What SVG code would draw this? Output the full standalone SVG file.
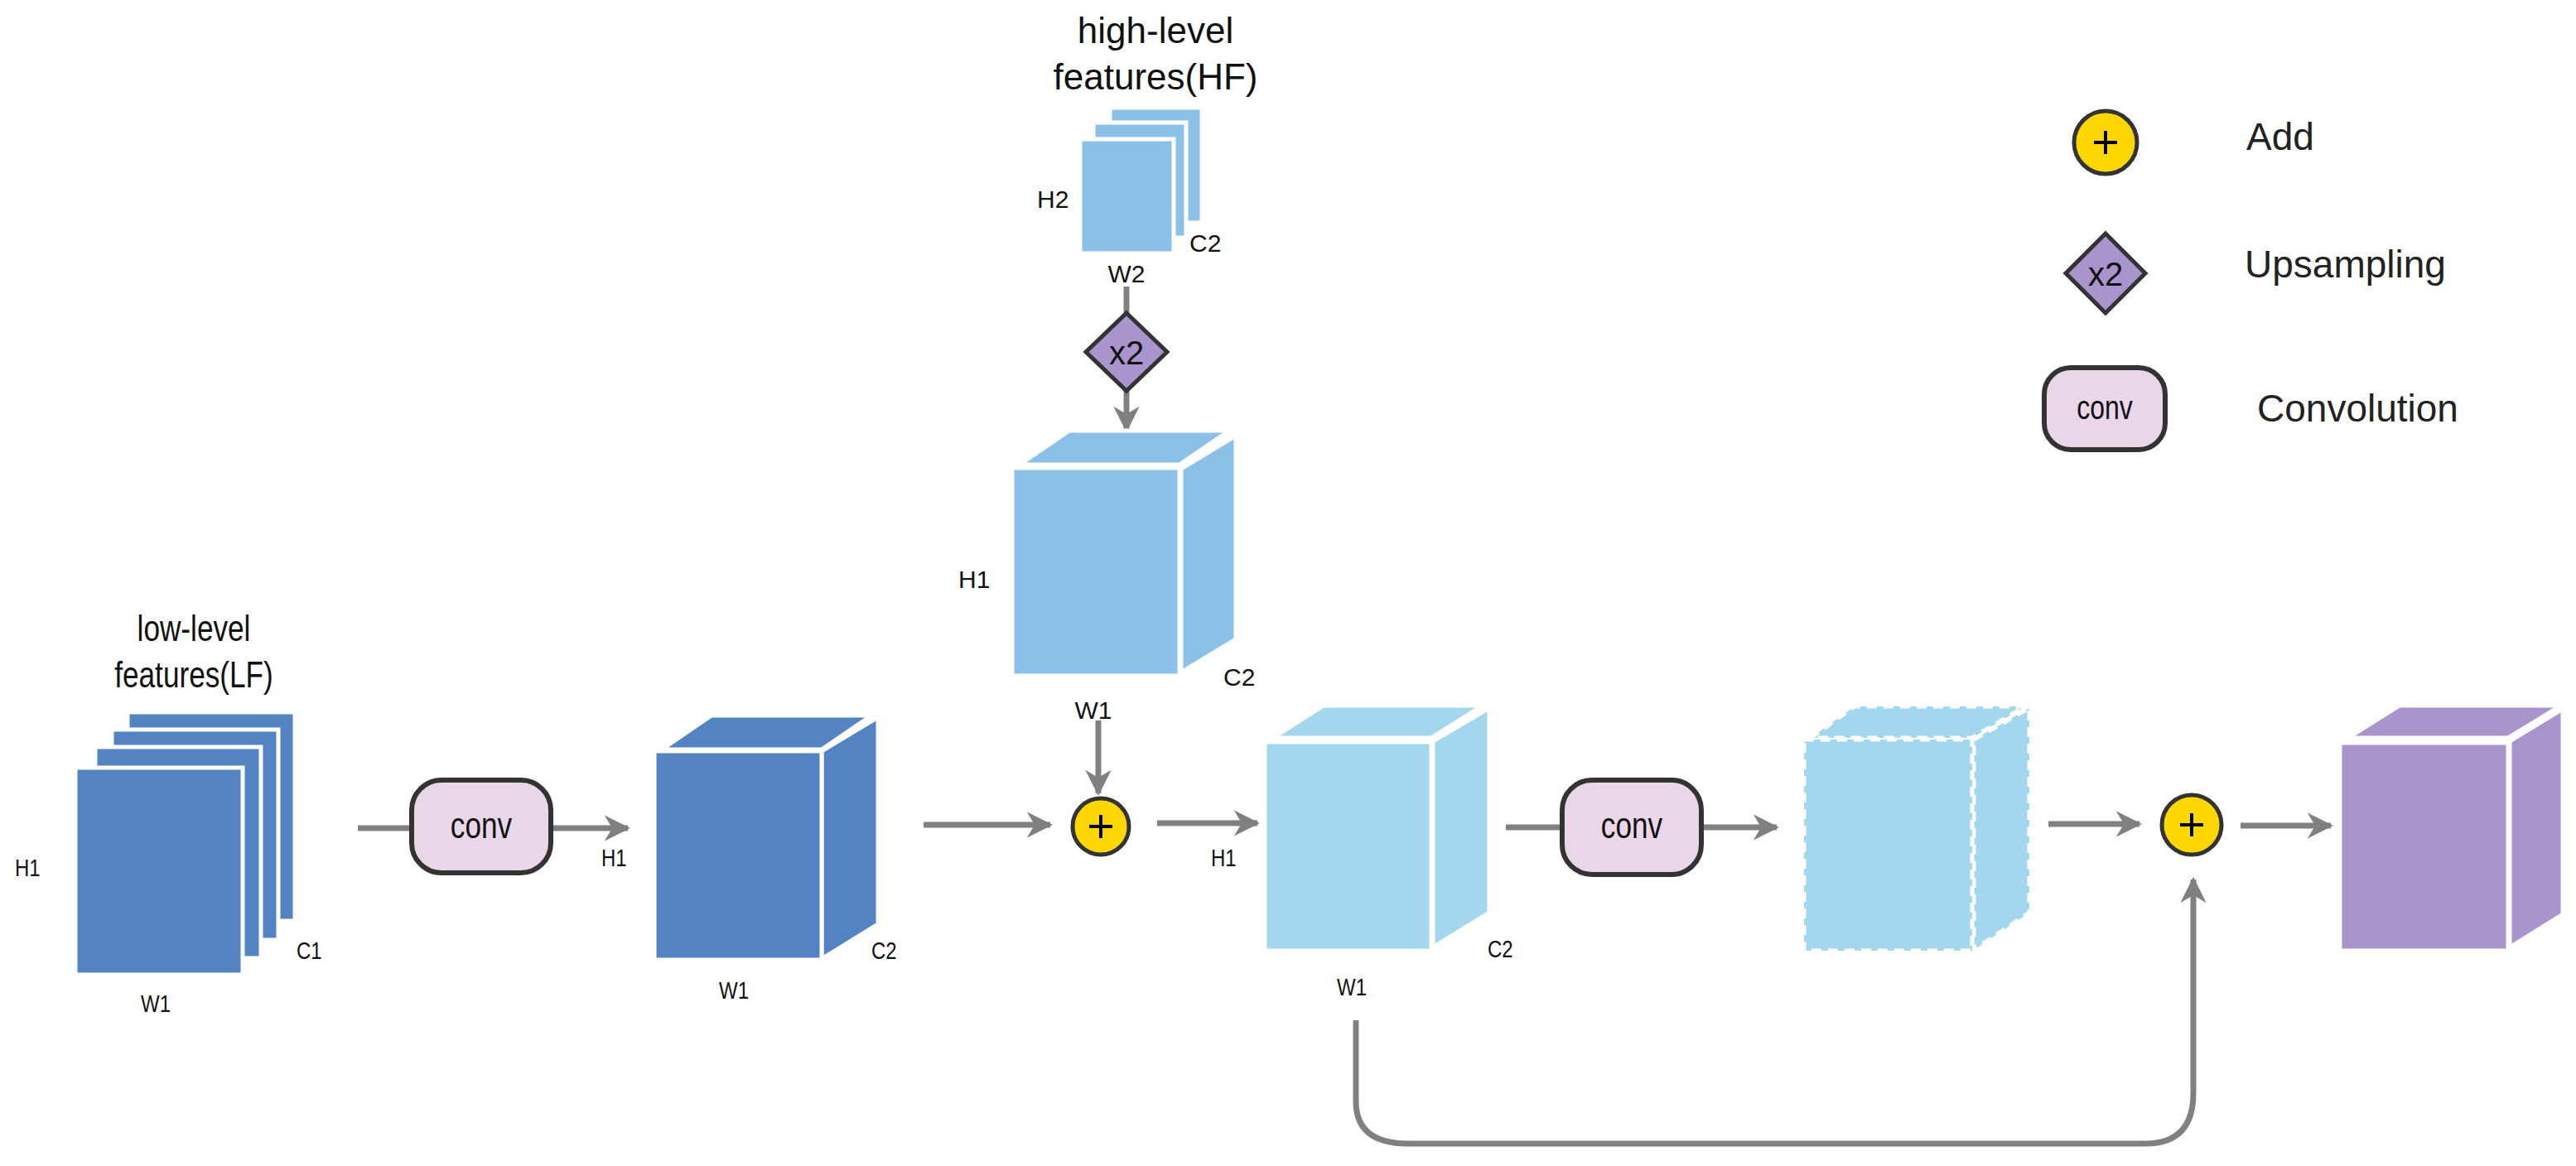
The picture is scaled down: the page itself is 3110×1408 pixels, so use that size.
<svg xmlns="http://www.w3.org/2000/svg" width="3110" height="1408" viewBox="0 0 3110 1408">
<defs>
<style>
text{font-family:"Liberation Sans",Arial,sans-serif;fill:#111}
.n{font-size:30px}
.big{font-size:44px}
.leg{font-size:46px;fill:#222}
.face{stroke:#fff;stroke-width:5;stroke-linejoin:miter}
.dk{fill:#5383C3}.lt{fill:#8BC1E9}.cy{fill:#A2D7EE}.pu{fill:#A994CD}
.ln{fill:none;stroke:#808080;stroke-width:7}
.add{fill:#FFD700;stroke:#333;stroke-width:5}
.conv{fill:#E9D7E9;stroke:#333;stroke-width:6}
.up{fill:#A994CD;stroke:#333;stroke-width:5}
.dash{stroke:#fff;stroke-width:5;stroke-dasharray:12 8}
</style>
<marker id="ah" viewBox="0 0 10 10" refX="9" refY="5" markerWidth="4.5" markerHeight="6" markerUnits="strokeWidth" orient="auto"><path d="M0,0 L10,5 L0,10 L3,5 Z" fill="#808080"/></marker>
</defs>
<rect width="3110" height="1408" fill="#fff"/>

<g id="connectors">
<line class="ln" x1="432" y1="1000" x2="500" y2="1000"/>
<line class="ln" x1="665" y1="1000" x2="758" y2="1000" marker-end="url(#ah)"/>
<line class="ln" x1="1115" y1="996" x2="1268" y2="996" marker-end="url(#ah)"/>
<line class="ln" x1="1360" y1="346" x2="1360" y2="378"/>
<line class="ln" x1="1360" y1="472" x2="1360" y2="519" marker-end="url(#ah)"/>
<line class="ln" x1="1326" y1="870" x2="1326" y2="958" marker-end="url(#ah)"/>
<line class="ln" x1="1397" y1="994" x2="1518" y2="994" marker-end="url(#ah)"/>
<line class="ln" x1="1818" y1="999" x2="1890" y2="999"/>
<line class="ln" x1="2052" y1="999" x2="2145" y2="999" marker-end="url(#ah)"/>
<line class="ln" x1="2473" y1="995" x2="2583" y2="995" marker-end="url(#ah)"/>
<line class="ln" x1="2705" y1="997" x2="2814" y2="997" marker-end="url(#ah)"/>
<path class="ln" d="M1637,1232 L1637,1330 Q1637,1381 1700,1381 L2590,1381 Q2648,1381 2648,1320 L2648,1062" marker-end="url(#ah)"/>
</g>

<g id="lf">
<text class="big" transform="translate(234,774) scale(0.8,1)" text-anchor="middle">low-level</text>
<text class="big" transform="translate(234,830) scale(0.8,1)" text-anchor="middle">features(LF)</text>
<rect class="dk face" x="154" y="860" width="202" height="252"/>
<rect class="dk face" x="135" y="881" width="201" height="254"/>
<rect class="dk face" x="115" y="902" width="200" height="255"/>
<rect class="dk face" x="91" y="927" width="202" height="250"/>
<text class="n" transform="translate(18,1058) scale(0.8,1)">H1</text>
<text class="n" transform="translate(170,1222) scale(0.8,1)">W1</text>
<text class="n" transform="translate(358,1158) scale(0.8,1)">C1</text>
</g>

<g id="conv1">
<rect class="conv" x="497" y="942" width="168" height="112" rx="36"/>
<text class="big" transform="translate(581,1012) scale(0.8,1)" text-anchor="middle">conv</text>
</g>

<g id="cube-lf">
<polygon class="dk face" points="799,905 859,864 1052,864 992,905"/>
<polygon class="dk face" points="992,907 1060,866 1060,1116 992,1158"/>
<rect class="dk face" x="790" y="907" width="202" height="252"/>
<text class="n" transform="translate(726,1046) scale(0.8,1)">H1</text>
<text class="n" transform="translate(868,1206) scale(0.8,1)">W1</text>
<text class="n" transform="translate(1052,1158) scale(0.8,1)">C2</text>
</g>

<g id="hf">
<text class="big" x="1395" y="52" text-anchor="middle">high-level</text>
<text class="big" x="1395" y="108" text-anchor="middle">features(HF)</text>
<rect class="lt face" x="1340" y="130" width="111" height="139"/>
<rect class="lt face" x="1320" y="148" width="112" height="139"/>
<rect class="lt face" x="1304" y="168" width="113" height="138"/>
<text class="n" x="1252" y="251">H2</text>
<text class="n" x="1436" y="304">C2</text>
<text class="n" x="1360" y="341" text-anchor="middle">W2</text>
</g>

<g id="upsample">
<polygon class="up" points="1360,378 1409,425 1360,472 1311,425"/>
<text class="big" x="1360" y="440" text-anchor="middle" style="font-size:40px">x2</text>
</g>

<g id="cube-hf">
<polygon class="lt face" points="1231,561 1291,520 1484,520 1424,561"/>
<polygon class="lt face" points="1426,566 1492,526 1492,772 1426,812"/>
<rect class="lt face" x="1222" y="565" width="202" height="251"/>
<text class="n" x="1157" y="710">H1</text>
<text class="n" x="1477" y="828">C2</text>
<text class="n" x="1320" y="868" text-anchor="middle">W1</text>
</g>

<g id="add1">
<circle class="add" cx="1329" cy="998" r="34"/>
<path d="M1315,998 H1343 M1329,984 V1012" stroke="#000" stroke-width="4"/>
</g>

<g id="cube-sum">
<polygon class="cy face" points="1537,891 1598,852 1790,852 1728,891"/>
<polygon class="cy face" points="1730,895 1798,855 1798,1102 1730,1144"/>
<rect class="cy face" x="1527" y="896" width="201" height="252"/>
<text class="n" transform="translate(1462,1046) scale(0.8,1)">H1</text>
<text class="n" transform="translate(1614,1202) scale(0.8,1)">W1</text>
<text class="n" transform="translate(1796,1156) scale(0.8,1)">C2</text>
</g>

<g id="conv2">
<rect class="conv" x="1886" y="942" width="168" height="114" rx="36"/>
<text class="big" transform="translate(1970,1012) scale(0.8,1)" text-anchor="middle">conv</text>
</g>

<g id="cube-conv">
<polygon class="cy dash" points="2186,891 2239,853 2445,853 2381,891"/>
<polygon class="cy dash" points="2383,893 2450,855 2450,1102 2383,1147"/>
<rect class="cy dash" x="2178" y="893" width="203" height="255"/>
</g>

<g id="add2">
<circle class="add" cx="2646" cy="996" r="36"/>
<path d="M2632,996 H2660 M2646,982 V1010" stroke="#000" stroke-width="4"/>
</g>

<g id="cube-out">
<polygon class="pu face" points="2835,891 2897,852 3092,852 3028,891"/>
<polygon class="pu face" points="3030,895 3094,856 3094,1104 3030,1144"/>
<rect class="pu face" x="2825" y="897" width="203" height="251"/>
</g>

<g id="legend">
<circle class="add" cx="2542" cy="172" r="38"/>
<path d="M2528,172 H2556 M2542,158 V186" stroke="#000" stroke-width="4"/>
<text class="leg" x="2712" y="181">Add</text>
<polygon class="up" points="2542,282 2590,330 2542,378 2494,330"/>
<text x="2542" y="345" text-anchor="middle" style="font-size:40px">x2</text>
<text class="leg" x="2710" y="335">Upsampling</text>
<rect class="conv" x="2468" y="444" width="146" height="99" rx="32"/>
<text transform="translate(2541,506) scale(0.8,1)" text-anchor="middle" style="font-size:40px">conv</text>
<text class="leg" x="2725" y="509">Convolution</text>
</g>
</svg>
